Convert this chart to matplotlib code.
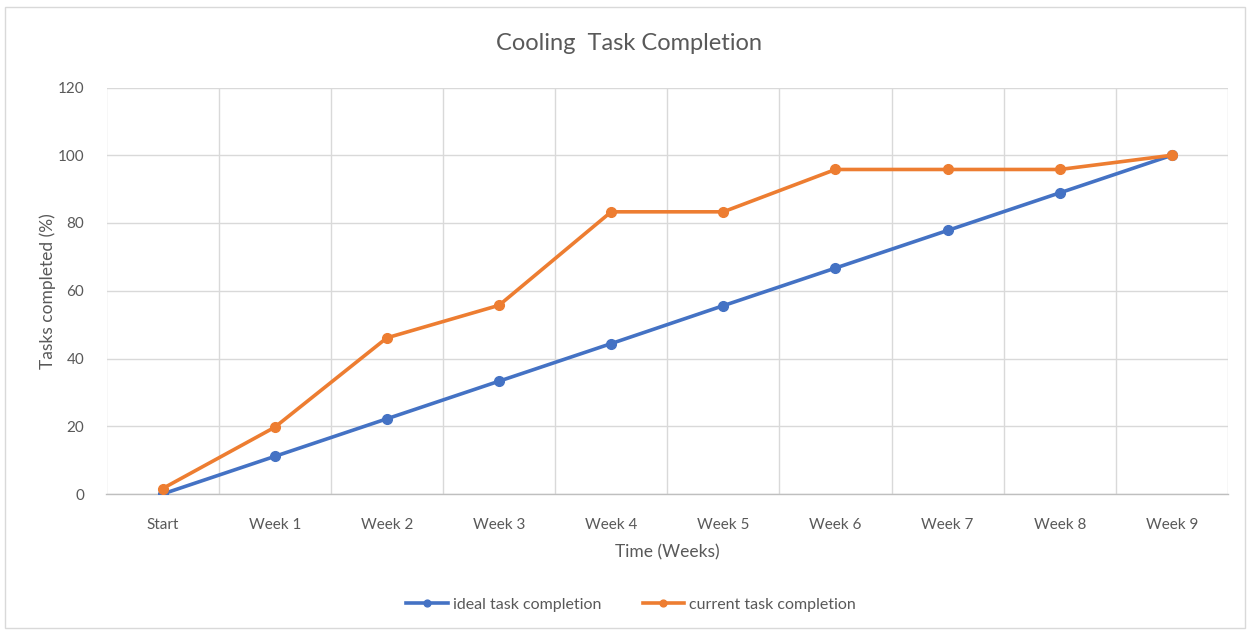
import matplotlib
matplotlib.use("Agg")
import matplotlib.pyplot as plt
from matplotlib.patches import Rectangle
import numpy as np

categories = ["Start", "Week 1", "Week 2", "Week 3", "Week 4", "Week 5",
              "Week 6", "Week 7", "Week 8", "Week 9"]
ideal = [0, 11.1, 22.2, 33.3, 44.4, 55.6, 66.7, 77.8, 88.9, 100]
current = [1.6, 19.7, 46.1, 55.7, 83.3, 83.3, 95.8, 95.8, 95.8, 100]
yticks = [0, 20, 40, 60, 80, 100, 120]

plt.rcParams['font.family'] = ['Lato', 'DejaVu Sans']

fig = plt.figure(figsize=(12.52, 6.33), dpi=100)
fig.patches.append(Rectangle((5/1252, 1-628/633), 1240/1252, 621/633,
                             transform=fig.transFigure, fill=False,
                             edgecolor='#d9d9d9', linewidth=1.0))

ax = fig.add_axes([106.5/1252, 1-494/633, (1228-106.5)/1252, (494-87.5)/633])
x = np.arange(len(categories))
blue = '#4472C4'
orange = '#ED7D31'
ax.plot(x, ideal, color=blue, linewidth=2.6, marker='o', markersize=7,
        label='ideal task completion', zorder=3)
ax.plot(x, current, color=orange, linewidth=2.6, marker='o', markersize=7,
        label='current task completion', zorder=3)

ax.set_xlim(-0.5, len(categories) - 0.5)
ax.set_ylim(0, 120)
ax.set_xticks(x)
ax.set_xticklabels(categories)
ax.set_xticks(np.arange(-0.5, len(categories), 1.0), minor=True)
ax.set_yticks(yticks)
ax.grid(True, which='minor', axis='x', color='#d9d9d9', linewidth=1.0)
ax.grid(True, which='major', axis='y', color='#d9d9d9', linewidth=1.0)
ax.set_axisbelow(True)
for s in ['top', 'right', 'left']:
    ax.spines[s].set_visible(False)
ax.spines['bottom'].set_color('#bfbfbf')
ax.spines['bottom'].set_linewidth(1.0)
ax.tick_params(axis='both', which='both', length=0, labelsize=11, colors='#595959')
ax.tick_params(axis='x', pad=17)
ax.tick_params(axis='y', pad=16)

ax.set_xlabel('Time (Weeks)', fontsize=12.5, color='#595959', labelpad=9)
ax.set_ylabel('Tasks completed (%)', fontsize=12.5, color='#595959', labelpad=1)
fig.text(629/1252, 1 - 44/633, 'Cooling  Task Completion',
         ha='center', va='center', fontsize=17, color='#595959')

leg = fig.legend(loc='center', bbox_to_anchor=(631/1252, 1 - 605/633), ncol=2,
                 frameon=False, fontsize=11.5, handlelength=2.6, columnspacing=2.6,
                 handletextpad=0.3, markerscale=0.7)
for t in leg.get_texts():
    t.set_color('#595959')

fig.savefig('out.png', dpi=100)
